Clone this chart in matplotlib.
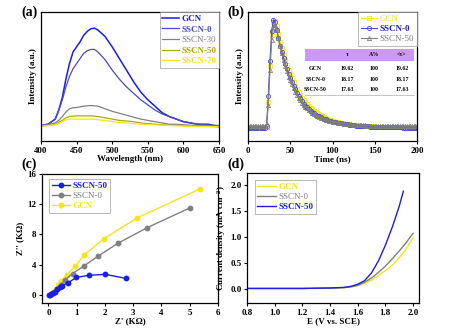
import numpy as np
import matplotlib
matplotlib.use("Agg")
import matplotlib.pyplot as plt

plt.rcParams['font.family'] = ['Liberation Serif', 'DejaVu Serif']
plt.rcParams['font.weight'] = 'bold'
plt.rcParams['axes.labelweight'] = 'bold'
plt.rcParams['mathtext.default'] = 'regular'

# ---------- (a) PL spectra ----------
pl_wl = [400, 410, 420, 425, 430, 435, 440, 445, 450, 455, 460, 465, 470, 475, 480, 490,
         500, 510, 520, 530, 540, 550, 560, 570, 580, 590, 600, 610, 620, 635, 650]
pl_gcn = [12, 13, 17, 24, 34, 48, 60, 69, 73, 77, 82, 85, 87, 87.5, 86, 81,
          73, 64, 55, 46, 38, 32, 27, 22, 19, 17, 15, 14, 13, 13, 11]
pl_s0 = [12, 13, 17, 24, 32, 42, 50, 56, 60, 64, 68, 70, 71, 71, 69, 63,
         55, 48, 42, 37, 32, 28, 24, 21, 19, 17, 15, 14, 13, 12.5, 12]
pl_s30 = [12, 12.5, 14, 16, 19, 22.5, 25, 25.8, 26, 26.5, 27, 27.3, 27.5, 27.3, 27, 25,
          23, 21.5, 20, 18.5, 17, 16, 15, 14, 13, 13, 12.5, 12.2, 12, 11.8, 11.5]
pl_s50 = [11.5, 12, 13, 14.5, 16, 18, 19, 19.3, 19.5, 19.5, 19.5, 19.5, 19.5, 19.3, 19, 18,
          17, 16, 15.5, 15, 14, 13.5, 13, 12.5, 12.3, 12.1, 12, 11.8, 11.5, 11.3, 11]
pl_s70 = [11.5, 12, 12.5, 13.5, 15, 16.3, 17, 17, 17, 17, 17, 17, 17, 16.8, 16.5, 16,
          15, 14.5, 14, 13.5, 13, 12.8, 12.5, 12.2, 12, 11.8, 11.5, 11.4, 11.3, 11.2, 11]

# ---------- (b) TRPL decay ----------
tr_t = np.arange(0, 202, 2)
tr_s0 = [0.10]*11 + [0.12, 0.35, 0.62, 0.85, 0.94, 0.92, 0.86, 0.80, 0.74, 0.69,
         0.64, 0.60, 0.56, 0.52, 0.49, 0.46, 0.43, 0.40, 0.375, 0.35,
         0.33, 0.31, 0.29, 0.275, 0.26, 0.245, 0.235, 0.225, 0.215, 0.205,
         0.197, 0.19, 0.183, 0.177, 0.172, 0.167, 0.162, 0.158, 0.154, 0.15,
         0.147, 0.144, 0.141, 0.138, 0.136, 0.134, 0.132, 0.13, 0.128, 0.126,
         0.124, 0.123, 0.122, 0.12, 0.119, 0.118, 0.117, 0.116, 0.115, 0.114,
         0.113, 0.112, 0.112, 0.111, 0.11, 0.11, 0.109, 0.109, 0.108, 0.108,
         0.107, 0.107, 0.107, 0.106, 0.106, 0.106, 0.105, 0.105, 0.105, 0.105,
         0.105, 0.104, 0.104, 0.104, 0.104, 0.104, 0.104, 0.104, 0.104, 0.104]
tr_gcn = [0.105]*11 + [0.11, 0.30, 0.58, 0.82, 0.92, 0.93, 0.89, 0.83, 0.77, 0.72,
          0.67, 0.63, 0.59, 0.55, 0.52, 0.49, 0.46, 0.43, 0.40, 0.38,
          0.355, 0.335, 0.315, 0.30, 0.285, 0.27, 0.258, 0.246, 0.235, 0.225,
          0.215, 0.206, 0.198, 0.19, 0.183, 0.177, 0.171, 0.166, 0.161, 0.157,
          0.153, 0.149, 0.146, 0.143, 0.14, 0.137, 0.135, 0.133, 0.131, 0.129,
          0.127, 0.125, 0.124, 0.122, 0.121, 0.12, 0.119, 0.118, 0.117, 0.116,
          0.115, 0.114, 0.113, 0.113, 0.112, 0.111, 0.111, 0.11, 0.11, 0.109,
          0.109, 0.108, 0.108, 0.108, 0.107, 0.107, 0.107, 0.106, 0.106, 0.106,
          0.106, 0.105, 0.105, 0.105, 0.105, 0.105, 0.105, 0.105, 0.105, 0.105]
tr_s50 = [0.115]*11 + [0.13, 0.28, 0.55, 0.78, 0.88, 0.90, 0.86, 0.80, 0.74, 0.68,
          0.63, 0.58, 0.54, 0.50, 0.47, 0.44, 0.41, 0.38, 0.36, 0.335,
          0.315, 0.297, 0.28, 0.266, 0.253, 0.241, 0.23, 0.22, 0.211, 0.203,
          0.195, 0.188, 0.182, 0.176, 0.171, 0.166, 0.162, 0.158, 0.154, 0.151,
          0.148, 0.145, 0.143, 0.14, 0.138, 0.136, 0.134, 0.132, 0.131, 0.129,
          0.128, 0.127, 0.126, 0.125, 0.124, 0.123, 0.122, 0.121, 0.121, 0.12,
          0.12, 0.119, 0.119, 0.118, 0.118, 0.117, 0.117, 0.117, 0.116, 0.116,
          0.116, 0.116, 0.115, 0.115, 0.115, 0.115, 0.115, 0.115, 0.115, 0.115,
          0.115, 0.115, 0.115, 0.115, 0.115, 0.115, 0.115, 0.115, 0.115, 0.115]
tab_cols = ['', 'τ', 'A%', '<τ>']
tab_rows = [['GCN', '19.62', '100', '19.62'],
            ['SSCN-0', '18.17', '100', '18.17'],
            ['SSCN-50', '17.63', '100', '17.63']]

# ---------- (c) Nyquist ----------
ny50_x = [0.03, 0.08, 0.15, 0.22, 0.3, 0.4, 0.47, 0.7, 0.99, 1.43, 2.01, 2.73]
ny50_y = [0.0, 0.05, 0.2, 0.4, 0.7, 1.0, 1.2, 1.6, 2.3, 2.57, 2.7, 2.17]
ny0_x = [0.05, 0.1, 0.2, 0.3, 0.45, 0.6, 0.85, 1.25, 1.75, 2.45, 3.5, 5.0]
ny0_y = [0.0, 0.1, 0.4, 0.8, 1.3, 2.0, 2.8, 3.8, 5.1, 6.8, 8.9, 11.5]
nyg_x = [0.05, 0.08, 0.15, 0.25, 0.35, 0.45, 0.65, 0.95, 1.27, 1.95, 3.15, 5.35]
nyg_y = [0.0, 0.05, 0.35, 0.8, 1.3, 1.8, 2.6, 3.8, 5.3, 7.4, 10.2, 14.0]

# ---------- (d) LSV ----------
lsv_e = [0.8, 1.0, 1.2, 1.4, 1.5, 1.55, 1.6, 1.65, 1.7, 1.75, 1.8, 1.85, 1.9, 1.95, 2.0]
lsv_gcn = [0.02, 0.02, 0.02, 0.025, 0.035, 0.05, 0.07, 0.12, 0.18, 0.27, 0.36, 0.47, 0.61, 0.78, 0.99]
lsv_s0 = [0.02, 0.02, 0.02, 0.025, 0.035, 0.05, 0.08, 0.14, 0.22, 0.33, 0.45, 0.59, 0.74, 0.90, 1.08]
lsv50_e = [0.8, 1.0, 1.2, 1.4, 1.5, 1.55, 1.6, 1.65, 1.7, 1.75, 1.8, 1.85, 1.9, 1.93]
lsv_s50 = [0.02, 0.02, 0.02, 0.03, 0.04, 0.06, 0.10, 0.17, 0.32, 0.55, 0.85, 1.2, 1.6, 1.89]

BLUE = '#1a1ee6'
SLATE = '#4a4acc'
GRAY = '#808080'
OLIVE = '#aaaa10'
YEL = '#f5e51b'

fig = plt.figure(figsize=(4.52, 3.29), dpi=100)
axa = fig.add_axes([0.0907, 0.5714, 0.3938, 0.3921])
axb = fig.add_axes([0.5487, 0.5714, 0.3739, 0.3921])
axc = fig.add_axes([0.0929, 0.0790, 0.3894, 0.3921])
axd = fig.add_axes([0.5465, 0.0790, 0.3805, 0.3952])

FS = 6.5
for ax in (axa, axb, axc, axd):
    ax.tick_params(labelsize=FS, length=2.5, width=0.8, direction='out', pad=1.5)
    for s in ax.spines.values():
        s.set_linewidth(0.9)

def style_legend(leg, weights):
    leg.get_frame().set_edgecolor('#999999')
    leg.get_frame().set_linewidth(0.6)
    leg.get_frame().set_boxstyle('square', pad=0.0)
    for t, line, w in zip(leg.get_texts(), leg.get_lines(), weights):
        t.set_color(line.get_color())
        t.set_fontweight(w)

# (a)
axa.plot(pl_wl, pl_gcn, color=BLUE, lw=1.1, label='GCN')
axa.plot(pl_wl, pl_s0, color=SLATE, lw=0.9, label='SSCN-0')
axa.plot(pl_wl, pl_s30, color=GRAY, lw=0.9, label='SSCN-30')
axa.plot(pl_wl, pl_s50, color=OLIVE, lw=0.9, label='SSCN-50')
axa.plot(pl_wl, pl_s70, color=YEL, lw=0.9, label='SSCN-70')
axa.set_xlim(400, 650)
axa.set_ylim(0, 100)
axa.set_xticks([400, 450, 500, 550, 600, 650])
axa.set_yticks([])
axa.set_xlabel('Wavelength (nm)', fontsize=FS, labelpad=0.5)
axa.set_ylabel('Intensity (a.u.)', fontsize=FS, labelpad=3)
leg = axa.legend(loc='upper right', fontsize=FS, handlelength=1.8, handletextpad=0.3,
                 borderaxespad=0.0, labelspacing=0.25, borderpad=0.3, fancybox=False)
style_legend(leg, ['bold', 'bold', 'normal', 'bold', 'bold'])
fig.text(0.048, 0.963, '(a)', fontsize=10, fontweight='bold', ha='left', va='center')

# (b)
axb.plot(tr_t, tr_gcn, color=YEL, lw=0.8, marker='s', ms=3.0, mfc='none', mew=0.6, label='GCN')
axb.plot(tr_t, tr_s0, color=SLATE, lw=0.8, marker='o', ms=3.0, mfc='none', mew=0.6, label='SSCN-0')
axb.plot(tr_t, tr_s50, color=GRAY, lw=0.8, marker='^', ms=3.0, mfc='none', mew=0.6, label='SSCN-50')
axb.set_xlim(0, 200)
axb.set_ylim(0, 1.0)
axb.set_xticks([0, 50, 100, 150, 200])
axb.set_yticks([])
axb.set_xlabel('Time (ns)', fontsize=FS, labelpad=0.5)
axb.set_ylabel('Intensity (a.u.)', fontsize=FS, labelpad=3)
leg = axb.legend(loc='upper right', fontsize=FS, handlelength=1.8, handletextpad=0.3,
                 borderaxespad=0.0, labelspacing=0.2, borderpad=0.3, fancybox=False)
style_legend(leg, ['normal', 'bold', 'normal'])
leg.get_texts()[1].set_color('#2020c0')
fig.text(0.502, 0.963, '(b)', fontsize=10, fontweight='bold', ha='left', va='center')

# inset table
tx0, tx1 = 0.335, 0.985
ty_top, ty_head = 0.715, 0.62
rect = plt.Rectangle((tx0, ty_head), tx1 - tx0, ty_top - ty_head, transform=axb.transAxes,
                     facecolor='#cc99f0', edgecolor='none', zorder=5)
axb.add_patch(rect)
axb.add_patch(plt.Rectangle((tx0, 0.355), tx1 - tx0, ty_head - 0.355, transform=axb.transAxes,
                            facecolor='white', edgecolor='none', zorder=5))
axb.plot([tx0, tx1], [0.355, 0.355], transform=axb.transAxes, color='#bbbbbb', lw=0.6, zorder=6)
col_x = [0.40, 0.585, 0.745, 0.91]
for cx, c in zip(col_x, tab_cols):
    axb.text(cx, (ty_top + ty_head) / 2, c, transform=axb.transAxes, fontsize=4.2,
             ha='center', va='center', zorder=7)
for i, row in enumerate(tab_rows):
    yy = 0.56 - i * 0.08
    for cx, c in zip(col_x, row):
        axb.text(cx, yy, c, transform=axb.transAxes, fontsize=4.2, ha='center',
                 va='center', zorder=7)

# (c)
axc.plot(ny50_x, ny50_y, color=BLUE, lw=1.0, marker='o', ms=3.2, label='SSCN-50', zorder=4)
axc.plot(ny0_x, ny0_y, color=GRAY, lw=1.0, marker='o', ms=3.2, label='SSCN-0', zorder=3)
axc.plot(nyg_x, nyg_y, color=YEL, lw=1.0, marker='o', ms=3.2, label='GCN', zorder=2)
axc.set_xlim(-0.23, 6)
axc.set_ylim(-1.1, 16)
axc.set_xticks([0, 1, 2, 3, 4, 5, 6])
axc.set_yticks([0, 4, 8, 12, 16])
axc.set_xlabel("Z' (KΩ)", fontsize=FS, labelpad=0.5)
axc.set_ylabel("Z'' (KΩ)", fontsize=FS, labelpad=2)
leg = axc.legend(loc='upper left', fontsize=FS, handlelength=2.0, handletextpad=0.3,
                 bbox_to_anchor=(0.04, 0.96), borderaxespad=0.0, labelspacing=0.2,
                 borderpad=0.3, fancybox=False)
style_legend(leg, ['bold', 'normal', 'bold'])
fig.text(0.048, 0.50, '(c)', fontsize=10, fontweight='bold', ha='left', va='center')

# (d)
axd.plot(lsv_e, lsv_gcn, color=YEL, lw=1.0, label='GCN')
axd.plot(lsv_e, lsv_s0, color=GRAY, lw=1.0, label='SSCN-0')
axd.plot(lsv50_e, lsv_s50, color=BLUE, lw=1.0, label='SSCN-50')
axd.set_xlim(0.8, 2.043)
axd.set_ylim(-0.26, 2.24)
axd.set_xticks([0.8, 1.0, 1.2, 1.4, 1.6, 1.8, 2.0])
axd.set_yticks([0.0, 0.5, 1.0, 1.5, 2.0])
axd.set_xlabel('E (V vs. SCE)', fontsize=FS, labelpad=0.5)
axd.set_ylabel('Current density (mA cm$^{-2}$)', fontsize=FS, labelpad=1.5)
leg = axd.legend(loc='upper left', fontsize=FS, handlelength=2.0, handletextpad=0.3,
                 bbox_to_anchor=(0.045, 0.945), borderaxespad=0.0, labelspacing=0.2,
                 borderpad=0.3, fancybox=False)
style_legend(leg, ['bold', 'normal', 'bold'])
fig.text(0.502, 0.50, '(d)', fontsize=10, fontweight='bold', ha='left', va='center')

fig.savefig('out.png', dpi=100)
